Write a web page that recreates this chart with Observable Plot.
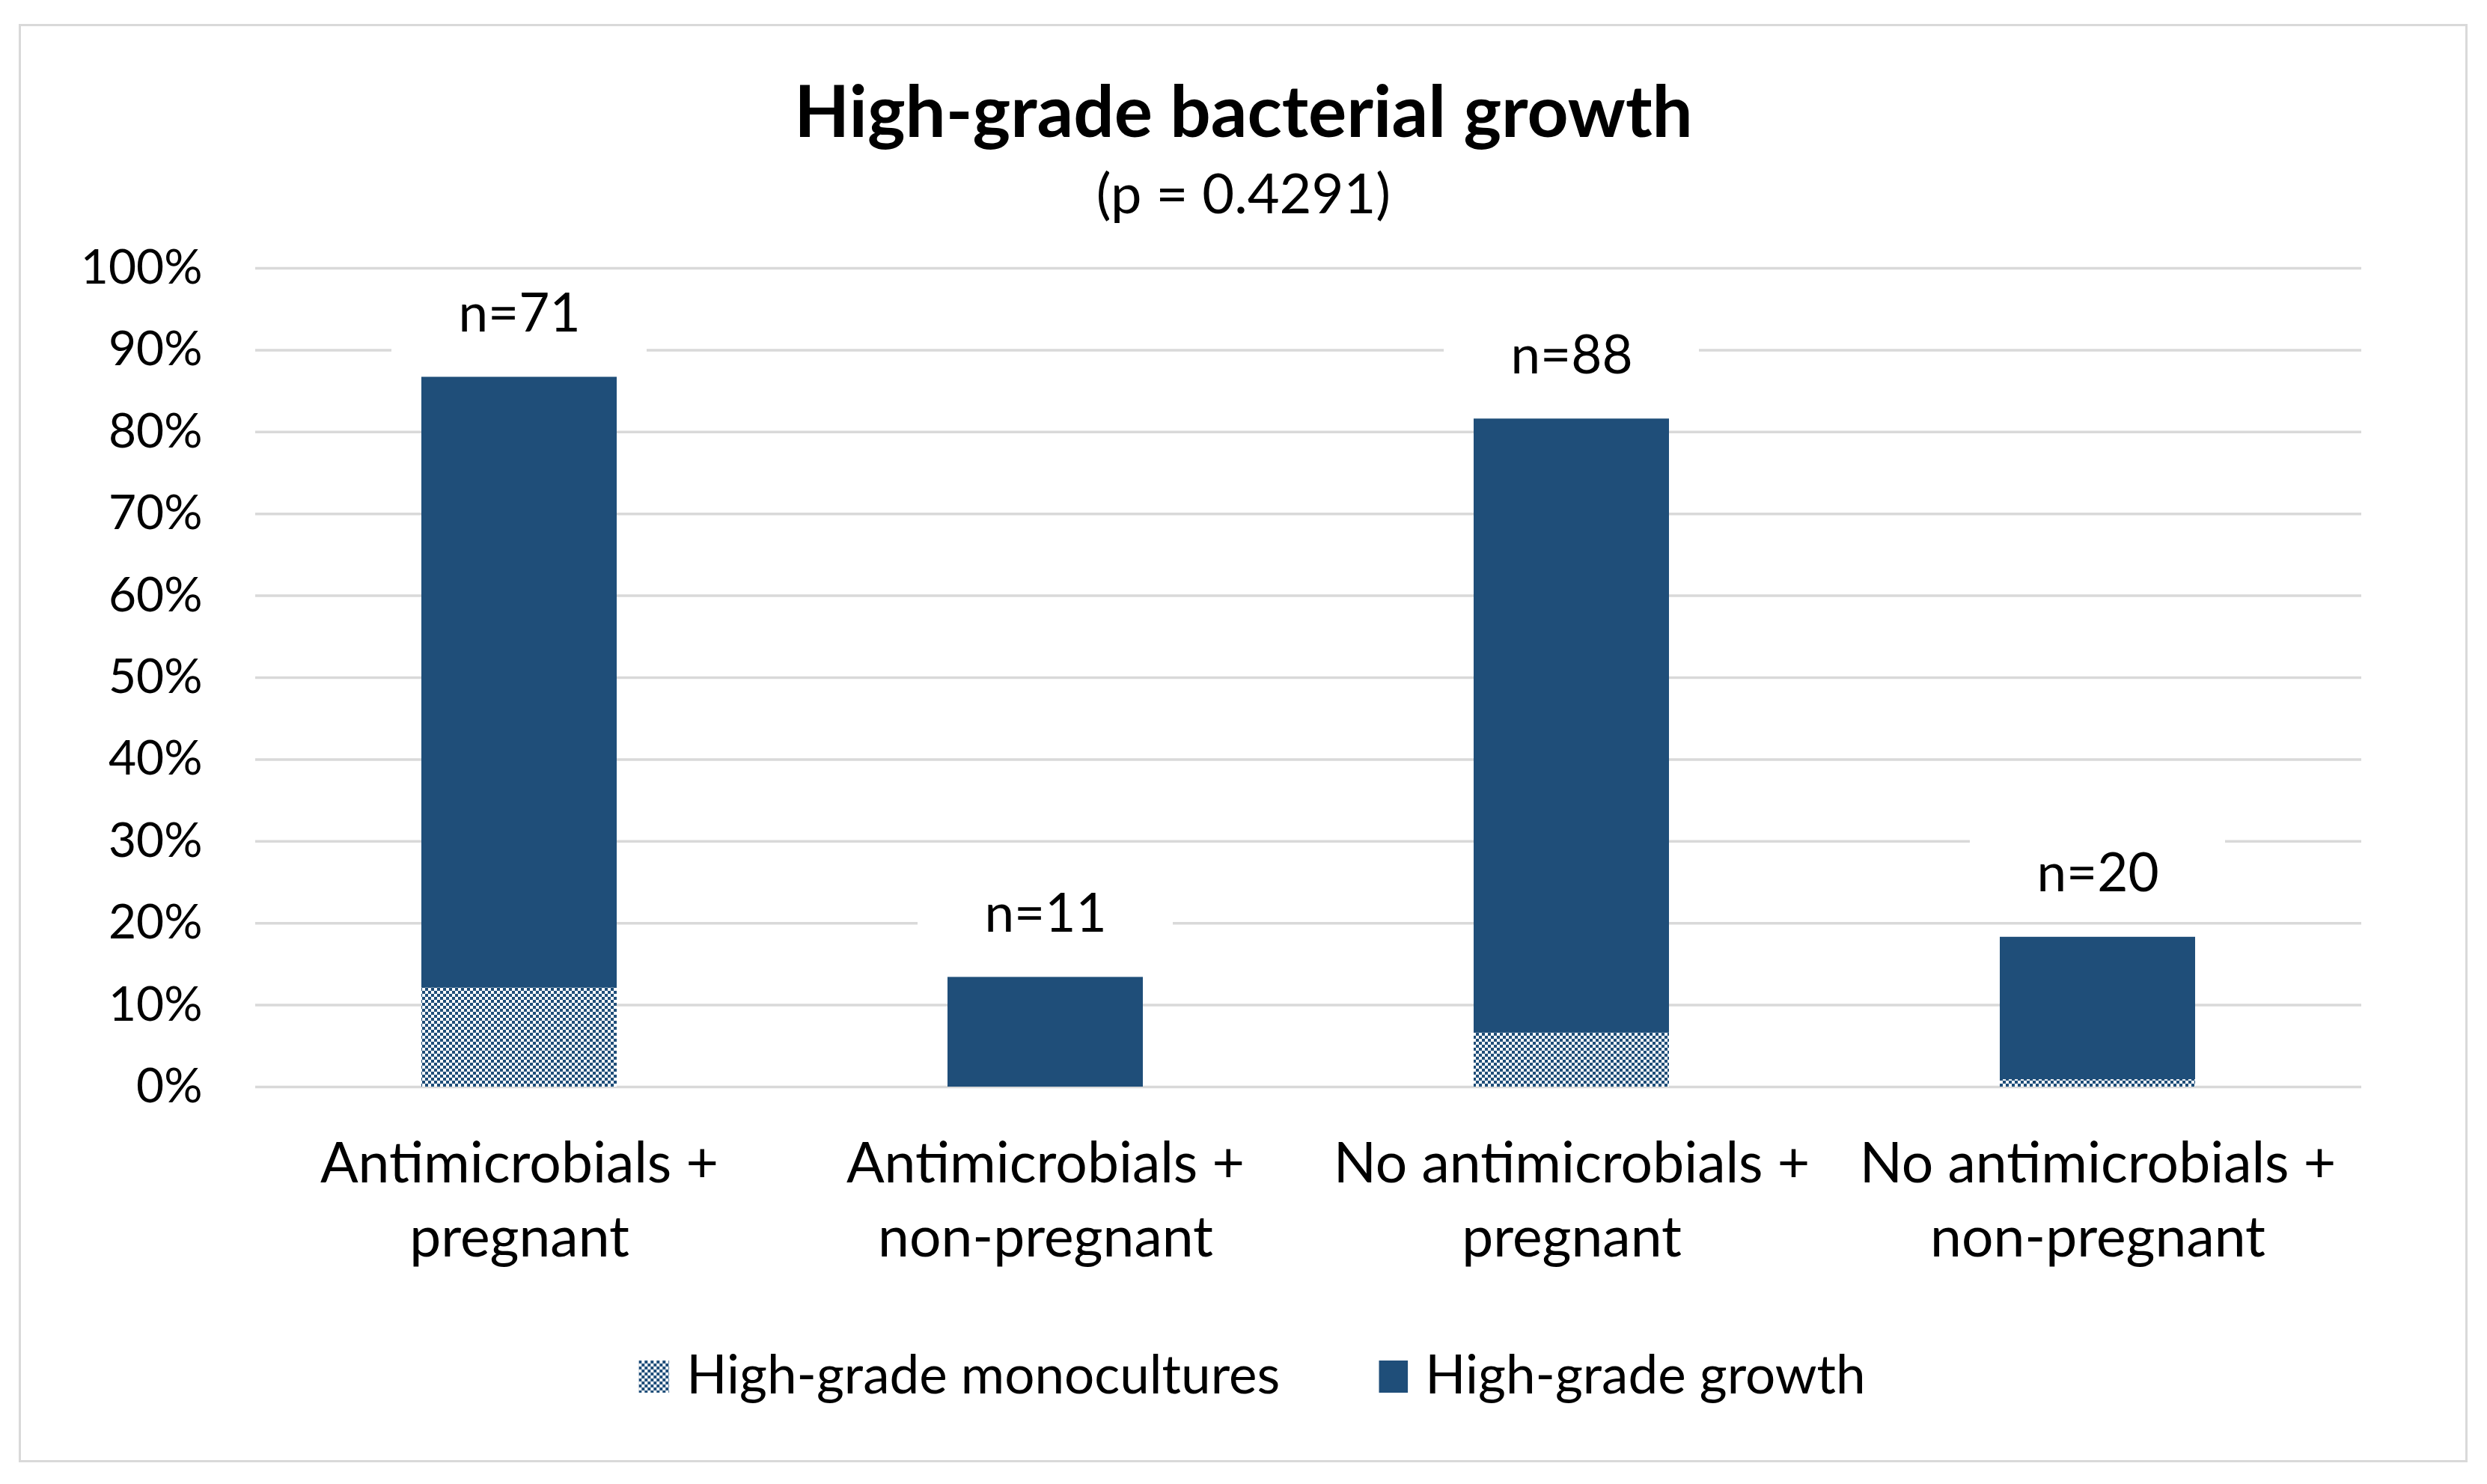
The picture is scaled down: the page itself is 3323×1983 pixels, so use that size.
<!DOCTYPE html>
<html>
<head>
<meta charset="utf-8">
<script src="https://cdn.jsdelivr.net/npm/d3@7"></script>
<script src="https://cdn.jsdelivr.net/npm/@observablehq/plot@0.6"></script>
<style>
  html, body { margin: 0; padding: 0; background: #fff; }
  #page { position: relative; width: 3323px; height: 1983px; overflow: hidden; font-family: "Lato", sans-serif; color: #000; }
  #frame { position: absolute; left: 25px; top: 32px; width: 3272px; height: 1922px; border: 3px solid #D9D9D9; box-sizing: border-box; }
  #chart { position: absolute; left: 0; top: 0; }
  .title { position: absolute; left: 0; width: 3323px; text-align: center; line-height: 1; white-space: nowrap; }
  #title { top: 98px; font-size: 96px; font-weight: 700; }
  #subtitle { top: 220px; font-size: 74px; font-weight: 400; }
  #legend { position: absolute; left: 1673px; top: 1799px; transform: translateX(-50%); display: flex; align-items: flex-end; white-space: nowrap; font-size: 71px; line-height: 1; }
  .item { display: flex; align-items: flex-end; }
  .item + .item { margin-left: 132px; }
  .sw { width: 41px; height: 43px; margin-right: 23px; margin-bottom: 9px; display: block; }
</style>
</head>
<body>
<div id="page">
  <div id="frame"></div>
  <div id="chart"></div>
  <div id="title" class="title"></div>
  <div id="subtitle" class="title"></div>
  <div id="legend"></div>
</div>
<script>
// ---- data ----
const categories = [
  "Antimicrobials +\npregnant",
  "Antimicrobials +\nnon-pregnant",
  "No antimicrobials +\npregnant",
  "No antimicrobials +\nnon-pregnant"
];
const highGradeGrowth = [0.867, 0.134, 0.816, 0.183];
const highGradeMonocultures = [0.121, 0.0, 0.066, 0.009];
const nLabels = ["n=71", "n=11", "n=88", "n=20"];
const yTicks = [0, 0.1, 0.2, 0.3, 0.4, 0.5, 0.6, 0.7, 0.8, 0.9, 1.0];
const seriesNames = ["High-grade monocultures", "High-grade growth"];
const titleText = "High-grade bacterial growth";
const subtitleText = "(p = 0.4291)";

// ---- styling ----
const barColor = "#1F4E79";
const gridColor = "#D9D9D9";

const rows = categories.map((c, i) => ({
  category: c,
  growth: highGradeGrowth[i],
  mono: highGradeMonocultures[i],
  label: nLabels[i]
}));

function addPattern(svgNode, id) {
  const defs = d3.select(svgNode).insert("defs", ":first-child");
  const p = defs.append("pattern")
    .attr("id", id)
    .attr("patternUnits", "userSpaceOnUse")
    .attr("width", 8).attr("height", 8);
  p.append("rect").attr("width", 8).attr("height", 8).attr("fill", "#fff");
  p.append("rect").attr("x", 0).attr("y", 0).attr("width", 4).attr("height", 4).attr("fill", barColor);
  p.append("rect").attr("x", 4).attr("y", 4).attr("width", 4).attr("height", 4).attr("fill", barColor);
}

const plot = Plot.plot({
  width: 3323,
  height: 1983,
  marginLeft: 341,
  marginRight: 168,
  marginTop: 358,
  marginBottom: 531,
  style: { fontFamily: "Lato, sans-serif", color: "#000", background: "transparent", overflow: "visible" },
  x: { domain: categories, paddingInner: 0.629, paddingOuter: 0.3145, align: 0.5, label: null },
  y: { domain: [0, 1], label: null },
  marks: [
    Plot.gridY(yTicks, { stroke: gridColor, strokeOpacity: 1, strokeWidth: 3.5 }),
    Plot.tickY(rows, { x: "category", y: "growth", dy: -84, stroke: "#fff", strokeWidth: 110, insetLeft: -40, insetRight: -40 }),
    Plot.barY(rows, { x: "category", y: "growth", fill: barColor }),
    Plot.barY(rows, { x: "category", y: "mono", fill: "url(#mono-pattern)" }),
    Plot.text(rows, { x: "category", y: "growth", text: "label", dy: -84, fontSize: 71, lineAnchor: "middle", fill: "#000" }),
    Plot.axisY(yTicks, { tickFormat: d3.format(".0%"), tickSize: 0, tickPadding: 71, fontSize: 64, label: null, fill: "#000" }),
    Plot.axisX({ tickSize: 0, tickPadding: 57, fontSize: 75, lineHeight: 1.32, label: null, fill: "#000" })
  ]
});
addPattern(plot, "mono-pattern");
document.getElementById("chart").appendChild(plot);

document.getElementById("title").textContent = titleText;
document.getElementById("subtitle").textContent = subtitleText;

// legend
const legend = document.getElementById("legend");
seriesNames.forEach((name, i) => {
  const item = document.createElement("div");
  item.className = "item";
  const sw = document.createElementNS("http://www.w3.org/2000/svg", "svg");
  sw.setAttribute("class", "sw");
  sw.setAttribute("width", i === 0 ? 41 : 39);
  sw.setAttribute("height", 43);
  sw.style.width = (i === 0 ? 41 : 39) + "px";
  if (i === 0) addPattern(sw, "legend-pattern");
  const r = document.createElementNS("http://www.w3.org/2000/svg", "rect");
  r.setAttribute("width", "100%");
  r.setAttribute("height", "100%");
  r.setAttribute("fill", i === 0 ? "url(#legend-pattern)" : barColor);
  sw.appendChild(r);
  const t = document.createElement("span");
  t.textContent = name;
  item.appendChild(sw);
  item.appendChild(t);
  legend.appendChild(item);
});
</script>
</body>
</html>
